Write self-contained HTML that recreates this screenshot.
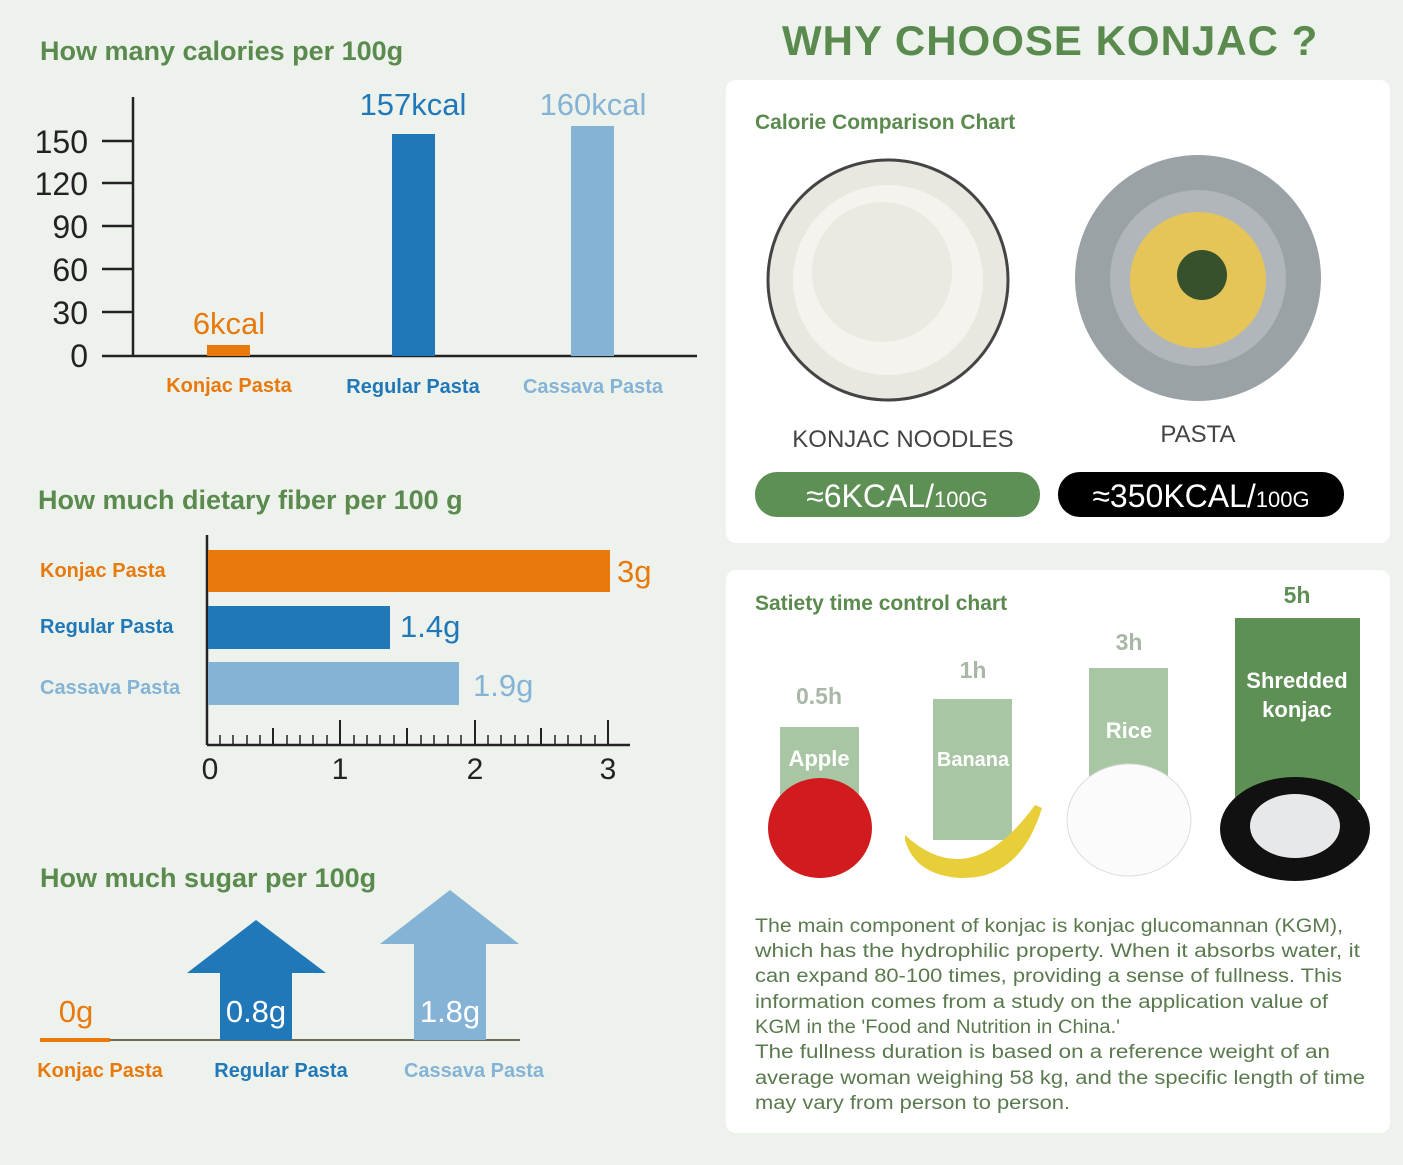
<!DOCTYPE html><html><head><meta charset="utf-8"><style>
body{margin:0;width:1403px;height:1165px;background:#eef2ec;position:relative;overflow:hidden;font-family:"Liberation Sans",sans-serif}
.a{position:absolute;white-space:nowrap}
.t{color:#5a8a4e;font-weight:bold;font-size:27px}
.card{position:absolute;background:#fff;border-radius:10px}
</style></head><body>
<div class="a t" style="left:40px;top:36px">How many calories per 100g</div>
<svg class="a" style="left:0;top:0" width="720" height="1165">
<g stroke="#222" stroke-width="2.5">
<line x1="133" y1="97" x2="133" y2="356"/><line x1="102" y1="356" x2="697" y2="356"/>
<line x1="102" y1="141" x2="133" y2="141"/><line x1="102" y1="183" x2="133" y2="183"/><line x1="102" y1="226" x2="133" y2="226"/><line x1="102" y1="269" x2="133" y2="269"/><line x1="102" y1="312" x2="133" y2="312"/>
</g>
<g font-size="32" fill="#222" text-anchor="end" font-family="Liberation Sans">
<text x="88" y="153">150</text><text x="88" y="195">120</text><text x="88" y="238">90</text><text x="88" y="281">60</text><text x="88" y="324">30</text><text x="88" y="367">0</text></g>
<rect x="207" y="345" width="43" height="11" fill="#e8790d"/>
<rect x="392" y="134" width="43" height="222" fill="#2178b8"/>
<rect x="571" y="126" width="43" height="230" fill="#85b3d6"/>
<g font-size="31" text-anchor="middle" font-family="Liberation Sans">
<text x="229" y="334" fill="#e8790d">6kcal</text><text x="413" y="115" fill="#2178b8">157kcal</text><text x="593" y="115" fill="#85b3d6">160kcal</text></g>
<g font-size="20" font-weight="bold" text-anchor="middle" font-family="Liberation Sans">
<text x="229" y="392" fill="#e8790d">Konjac Pasta</text><text x="413" y="393" fill="#2178b8">Regular Pasta</text><text x="593" y="393" fill="#85b3d6">Cassava Pasta</text></g>
<line x1="207" y1="535" x2="207" y2="745" stroke="#222" stroke-width="2.5"/>
<line x1="207" y1="745" x2="630" y2="745" stroke="#222" stroke-width="2.5"/>
<g stroke="#222" stroke-width="2">
<line x1="340" y1="720" x2="340" y2="745"/><line x1="475" y1="720" x2="475" y2="745"/><line x1="608" y1="720" x2="608" y2="745"/>
<line x1="273" y1="728" x2="273" y2="745"/><line x1="407" y1="728" x2="407" y2="745"/><line x1="541" y1="728" x2="541" y2="745"/>
</g>
<g stroke="#222" stroke-width="1.5">
<line x1="220" y1="735" x2="220" y2="745"/><line x1="233" y1="735" x2="233" y2="745"/><line x1="247" y1="735" x2="247" y2="745"/><line x1="260" y1="735" x2="260" y2="745"/><line x1="287" y1="735" x2="287" y2="745"/><line x1="300" y1="735" x2="300" y2="745"/><line x1="313" y1="735" x2="313" y2="745"/><line x1="327" y1="735" x2="327" y2="745"/>
<line x1="354" y1="735" x2="354" y2="745"/><line x1="367" y1="735" x2="367" y2="745"/><line x1="380" y1="735" x2="380" y2="745"/><line x1="394" y1="735" x2="394" y2="745"/><line x1="421" y1="735" x2="421" y2="745"/><line x1="434" y1="735" x2="434" y2="745"/><line x1="448" y1="735" x2="448" y2="745"/><line x1="461" y1="735" x2="461" y2="745"/>
<line x1="488" y1="735" x2="488" y2="745"/><line x1="501" y1="735" x2="501" y2="745"/><line x1="515" y1="735" x2="515" y2="745"/><line x1="528" y1="735" x2="528" y2="745"/><line x1="555" y1="735" x2="555" y2="745"/><line x1="568" y1="735" x2="568" y2="745"/><line x1="581" y1="735" x2="581" y2="745"/><line x1="595" y1="735" x2="595" y2="745"/></g>
<rect x="208" y="550" width="402" height="42" fill="#e8790d"/>
<rect x="208" y="606" width="182" height="43" fill="#2178b8"/>
<rect x="208" y="662" width="251" height="43" fill="#85b3d6"/>
<g font-size="31" font-family="Liberation Sans"><text x="617" y="582" fill="#e8790d">3g</text><text x="400" y="637" fill="#2178b8">1.4g</text><text x="473" y="696" fill="#85b3d6">1.9g</text></g>
<g font-size="30" fill="#222" text-anchor="middle" font-family="Liberation Sans"><text x="210" y="779">0</text><text x="340" y="779">1</text><text x="475" y="779">2</text><text x="608" y="779">3</text></g>
<g font-size="20" font-weight="bold" font-family="Liberation Sans"><text x="40" y="577" fill="#e8790d">Konjac Pasta</text><text x="40" y="633" fill="#2178b8">Regular Pasta</text><text x="40" y="694" fill="#85b3d6">Cassava Pasta</text></g>
<line x1="40" y1="1040" x2="520" y2="1040" stroke="#6a6a50" stroke-width="2"/>
<line x1="40" y1="1040" x2="110" y2="1040" stroke="#e8790d" stroke-width="4"/>
<polygon points="256,920 326,973 292,973 292,1040 220,1040 220,973 187,973" fill="#2178b8"/>
<polygon points="450,890 519,944 486,944 486,1040 414,1040 414,944 380,944" fill="#85b3d6"/>
<g font-size="31" font-family="Liberation Sans" text-anchor="middle"><text x="76" y="1022" fill="#e8790d">0g</text><text x="256" y="1022" fill="#fff">0.8g</text><text x="450" y="1022" fill="#fff">1.8g</text></g>
<g font-size="20" font-weight="bold" text-anchor="middle" font-family="Liberation Sans"><text x="100" y="1077" fill="#e8790d">Konjac Pasta</text><text x="281" y="1077" fill="#2178b8">Regular Pasta</text><text x="474" y="1077" fill="#85b3d6">Cassava Pasta</text></g>
</svg>
<div class="a t" style="left:38px;top:485px">How much dietary fiber per 100 g</div>
<div class="a t" style="left:40px;top:863px">How much sugar per 100g</div>

<div class="a" style="left:782px;top:17px;font-size:42px;font-weight:bold;color:#5a8a4e;letter-spacing:1px">WHY CHOOSE KONJAC ?</div>
<div class="card" style="left:726px;top:80px;width:664px;height:463px"></div>
<div class="card" style="left:726px;top:570px;width:664px;height:563px"></div>
<svg class="a" style="left:720px;top:0" width="683" height="1165">
<text x="35" y="129" font-size="21" font-weight="bold" fill="#5a8a4e" font-family="Liberation Sans">Calorie Comparison Chart</text>
<circle cx="168" cy="280" r="120" fill="#eae6e0" stroke="#444" stroke-width="3"/>
<circle cx="168" cy="280" r="95" fill="#f6f3ee"/>
<circle cx="162" cy="272" r="70" fill="#ece9e2"/>
<circle cx="478" cy="278" r="123" fill="#9aa2a6"/>
<circle cx="478" cy="278" r="88" fill="#b0b6b9"/>
<circle cx="478" cy="280" r="68" fill="#e5c557"/>
<circle cx="482" cy="275" r="25" fill="#37512c"/>
<g font-size="24" fill="#444" text-anchor="middle" font-family="Liberation Sans"><text x="183" y="447">KONJAC NOODLES</text><text x="478" y="442">PASTA</text></g>
<rect x="35" y="472" width="285" height="45" rx="22" fill="#5e8f55"/>
<rect x="338" y="472" width="286" height="45" rx="22" fill="#000"/>
<g font-size="32" fill="#fff" text-anchor="middle" font-family="Liberation Sans"><text x="177" y="507">≈6KCAL/<tspan font-size="22">100G</tspan></text><text x="481" y="507">≈350KCAL/<tspan font-size="22">100G</tspan></text></g>
<text x="35" y="610" font-size="21" font-weight="bold" fill="#5a8a4e" font-family="Liberation Sans">Satiety time control chart</text>
<rect x="60" y="727" width="79" height="73" fill="#a9c6a4"/>
<rect x="213" y="699" width="79" height="141" fill="#a9c6a4"/>
<rect x="369" y="668" width="79" height="112" fill="#a9c6a4"/>
<rect x="515" y="618" width="125" height="182" fill="#5e8f55"/>
<g font-size="23" fill="#a9b8a6" text-anchor="middle" font-weight="bold" font-family="Liberation Sans"><text x="99" y="704">0.5h</text><text x="253" y="678">1h</text><text x="409" y="650">3h</text><text x="577" y="603" fill="#5e8f55">5h</text></g>
<g font-size="22" fill="#fff" text-anchor="middle" font-weight="bold" font-family="Liberation Sans"><text x="99" y="766">Apple</text><text x="253" y="766" font-size="20">Banana</text><text x="409" y="738">Rice</text><text x="577" y="688">Shredded</text><text x="577" y="717">konjac</text></g>
<ellipse cx="100" cy="828" rx="52" ry="50" fill="#d11b1f"/>
<path d="M185,835 Q250,895 315,805 L322,808 Q300,880 240,878 Q195,875 185,840Z" fill="#e8cf3a"/>
<ellipse cx="409" cy="820" rx="62" ry="56" fill="#fbfbfb" stroke="#ddd"/>
<ellipse cx="575" cy="829" rx="75" ry="52" fill="#111"/>
<ellipse cx="575" cy="826" rx="45" ry="32" fill="#e6e8ea"/>
<g font-size="19" fill="#5a7a4e" font-family="Liberation Sans" lengthAdjust="spacingAndGlyphs">
<text x="35" y="932" textLength="588" lengthAdjust="spacingAndGlyphs">The main component of konjac is konjac glucomannan (KGM),</text>
<text x="35" y="957" textLength="605" lengthAdjust="spacingAndGlyphs">which has the hydrophilic property. When it absorbs water, it</text>
<text x="35" y="982" textLength="587" lengthAdjust="spacingAndGlyphs">can expand 80-100 times, providing a sense of fullness. This</text>
<text x="35" y="1008" textLength="573" lengthAdjust="spacingAndGlyphs">information comes from a study on the application value of</text>
<text x="35" y="1033" textLength="365" lengthAdjust="spacingAndGlyphs">KGM in the 'Food and Nutrition in China.'</text>
<text x="35" y="1058" textLength="575" lengthAdjust="spacingAndGlyphs">The fullness duration is based on a reference weight of an</text>
<text x="35" y="1084" textLength="610" lengthAdjust="spacingAndGlyphs">average woman weighing 58 kg, and the specific length of time</text>
<text x="35" y="1109" textLength="315" lengthAdjust="spacingAndGlyphs">may vary from person to person.</text></g>
</svg>
</body></html>
